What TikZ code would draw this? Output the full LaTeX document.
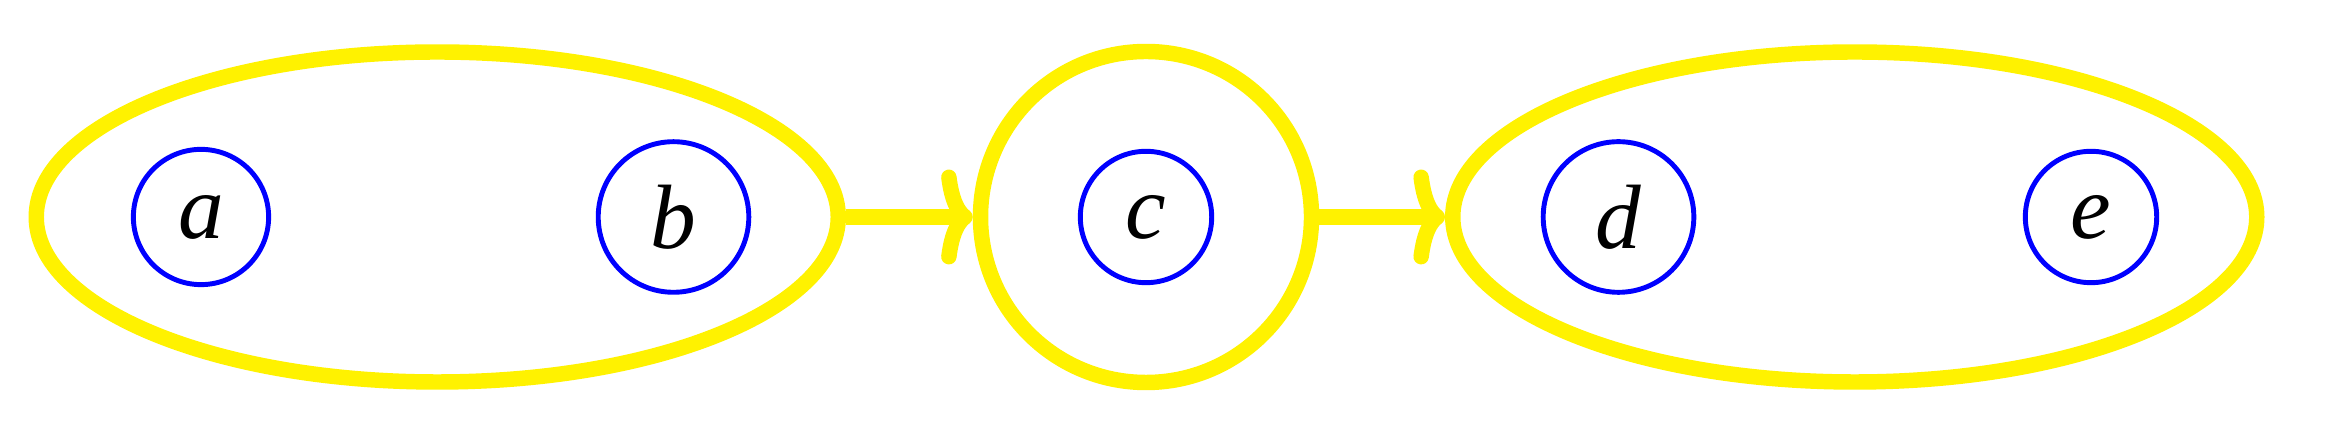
\documentclass[tikz,border=0pt]{standalone}
\usepackage{fontspec}
\newfontfamily\labelfont{Liberation Serif}
\usepackage{tikz}
\usetikzlibrary{positioning,shapes.geometric,arrows.meta}
\definecolor{hullyellow}{RGB}{255,242,0}

\begin{document}
\begin{tikzpicture}[
	vertex/.style={circle,draw=blue,line width=1.4pt,inner sep=0.255cm,font=\labelfont\itshape\fontsize{26}{30}\selectfont},
	cluster/.style={draw=hullyellow,line width=4.4pt,inner sep=0pt},
	flow/.style={-{Computer Modern Rightarrow[length=9pt,width=27pt]},draw=hullyellow,line width=4.4pt}]
	\useasboundingbox (0,0) rectangle (23.39,4.25);
	% vertices, equally spaced
	\node[vertex] (a) at (2.01,2.08) {a};
	\node[vertex,on grid,right=4.725cm of a] (b) {b};
	\node[vertex,on grid,right=4.725cm of b] (c) {c};
	\node[vertex,on grid,right=4.725cm of c] (d) {d};
	\node[vertex,on grid,right=4.725cm of d] (e) {e};
	% yellow groups
	\node[cluster,ellipse,minimum width=8.02cm,minimum height=3.30cm,on grid,right=2.3625cm of a] (ab) {};
	\node[cluster,circle,minimum size=3.31cm] (cc) at (c) {};
	\node[cluster,ellipse,minimum width=8.04cm,minimum height=3.30cm,on grid,right=2.3625cm of d] (de) {};
	\draw[flow] (ab) -- (cc);
	\draw[flow] (cc) -- (de);
\end{tikzpicture}
\end{document}
